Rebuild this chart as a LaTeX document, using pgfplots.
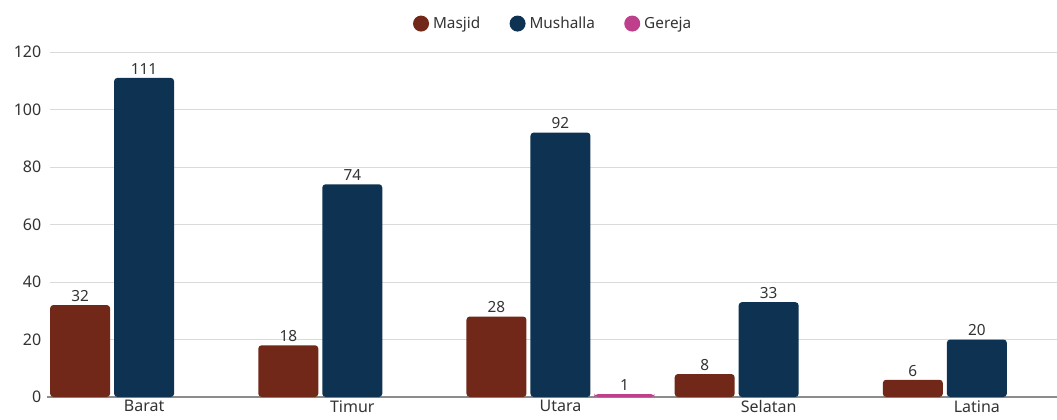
\documentclass[border=0pt]{standalone}
\usepackage{pgfplots}
\pgfplotsset{compat=1.18}
\usepackage{fontspec}
\setmainfont{Noto Sans}
\definecolor{masjid}{HTML}{722818}
\definecolor{mushalla}{HTML}{0E3352}
\definecolor{gereja}{HTML}{BE3F8C}
\definecolor{txt}{HTML}{333333}
\definecolor{gridc}{HTML}{DADADA}
\begin{document}
\begin{tikzpicture}
\useasboundingbox (0pt,0pt) rectangle (792.75pt,314.25pt);
\begin{axis}[
  at={(37.5pt,16.5pt)}, anchor=south west,
  scale only axis,
  width=755.25pt, height=258.75pt,
  xmin=-0.452, xmax=4.385,
  ymin=0, ymax=120,
  ytick={0,20,...,120},
  xtick={0,1,2,3,4},
  xticklabels={Barat,Timur,Utara,Selatan,Latina},
  axis x line*=bottom,
  axis y line*=left,
  y axis line style={draw=none},
  x axis line style={draw=black!45, line width=0.8pt, shorten <=-2pt},
  ymajorgrids, grid style={gridc, line width=0.7pt},
  major tick length=0pt,
  tick style={draw=none},
  /pgf/number format/assume math mode=true,
  ticklabel style={font=\fontsize{12}{14}\selectfont, text=txt},
  yticklabel style={xshift=-3pt},
  xticklabel style={yshift=1pt},
  ybar, bar width=45pt,
  every axis plot/.append style={draw=none, rounded corners=2.5pt},
  nodes near coords,
  every node near coord/.append style={font=\fontsize{11.5}{13}\selectfont, text=txt, yshift=-1pt, rounded corners=0pt},
  clip=false,
  legend columns=3,
  legend style={at={(0.5,1)}, anchor=south, yshift=12pt, draw=none, fill=none,
     font=\fontsize{11.5}{13}\selectfont, text=txt,
     /tikz/every even column/.append style={column sep=20pt}},
  legend cell align=left,
]
\addplot[fill=masjid, bar shift=-48pt,
  legend image code/.code={\fill[masjid] (6pt,0pt) circle (6pt); \path (13pt,0pt);}]
  coordinates {(0,32) (1,18) (2,28) (3,8) (4,6)};
\addplot[fill=mushalla, bar shift=0pt,
  legend image code/.code={\fill[mushalla] (6pt,0pt) circle (6pt); \path (13pt,0pt);}]
  coordinates {(0,111) (1,74) (2,92) (3,33) (4,20)};
\addplot[fill=gereja, bar shift=48pt,
  legend image code/.code={\fill[gereja] (6pt,0pt) circle (6pt); \path (13pt,0pt);}]
  coordinates {(2,1)};
\legend{Masjid,Mushalla,Gereja}
\end{axis}
\end{tikzpicture}
\end{document}
